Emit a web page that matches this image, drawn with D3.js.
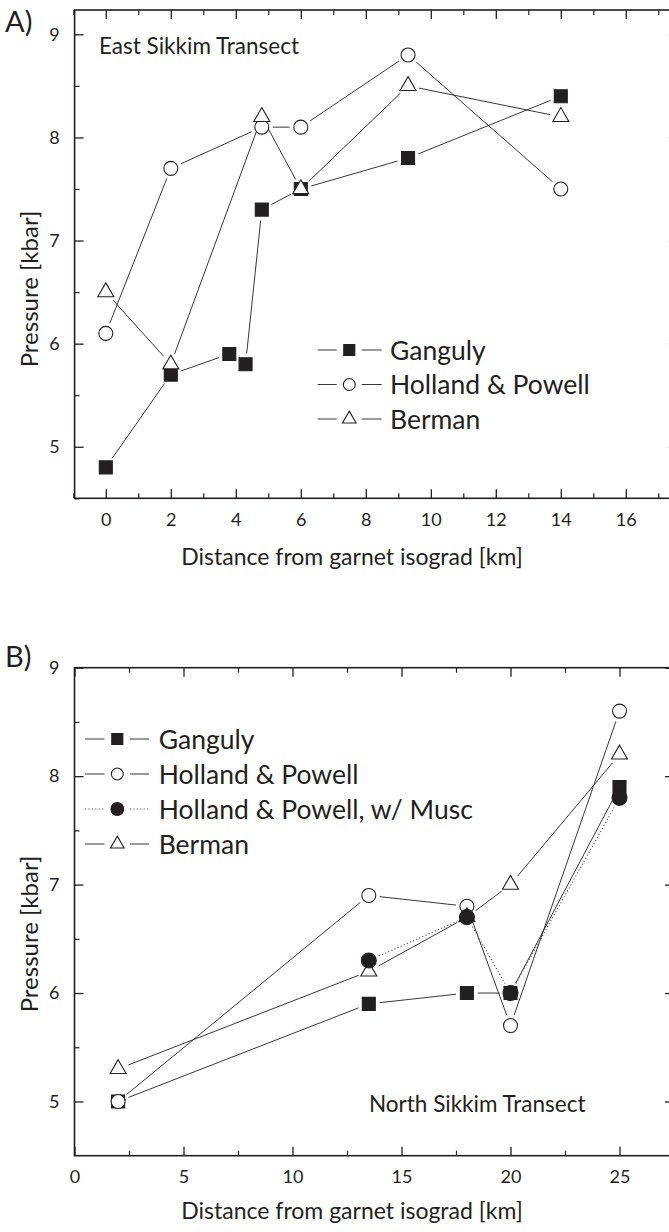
<!DOCTYPE html>
<html>
<head>
<meta charset="utf-8">
<script src="https://cdn.jsdelivr.net/npm/d3@7/dist/d3.min.js"></script>
<style>
  body { margin: 0; background: #fff; }
  svg { display: block; }
  text { font-family: Lato, "Open Sans", sans-serif; fill: #231f20; }
</style>
</head>
<body>
<svg id="fig" width="669" height="1232"></svg>
<script>
// ---- East Sikkim transect (panel A) ----
const eastGangulyDist = [0, 2, 3.8, 4.3, 4.8, 6, 9.3, 14];
const eastGangulyP    = [4.8, 5.7, 5.9, 5.8, 7.3, 7.5, 7.8, 8.4];
const eastHollandDist = [0, 2, 4.8, 6, 9.3, 14];
const eastHollandP    = [6.1, 7.7, 8.1, 8.1, 8.8, 7.5];
const eastBermanDist  = [0, 2, 4.8, 6, 9.3, 14];
const eastBermanP     = [6.5, 5.8, 8.2, 7.5, 8.5, 8.2];

// ---- North Sikkim transect (panel B) ----
const northGangulyDist = [2, 13.5, 18, 20, 25];
const northGangulyP    = [5.0, 5.9, 6.0, 6.0, 7.9];
const northHollandDist = [2, 13.5, 18, 20, 25];
const northHollandP    = [5.0, 6.9, 6.8, 5.7, 8.6];
const northMuscDist    = [13.5, 18, 20, 25];
const northMuscP       = [6.3, 6.7, 6.0, 7.8];
const northBermanDist  = [2, 13.5, 18, 20, 25];
const northBermanP     = [5.3, 6.2, 6.7, 7.0, 8.2];

// ---- ticks and labels ----
const eastXTicks  = [0, 2, 4, 6, 8, 10, 12, 14, 16];
const northXTicks = [0, 5, 10, 15, 20, 25];
const pressureTicks = [5, 6, 7, 8, 9];
const eastLegend  = ["Ganguly", "Holland & Powell", "Berman"];
const northLegend = ["Ganguly", "Holland & Powell", "Holland & Powell, w/ Musc", "Berman"];
const xTitle = "Distance from garnet isograd [km]";
const yTitle = "Pressure [kbar]";

const INK = "#231f20";
const svg = d3.select("#fig");

const zip = (xs, ys) => xs.map((x, i) => ({ x, y: ys[i] }));

const markerStyles = {
  square:   { shape: d3.symbolSquare,   size: 13 * 13, fill: INK },
  circle:   { shape: d3.symbolCircle,   size: Math.PI * 7 * 7, fill: "#fff" },
  dot:      { shape: d3.symbolCircle,   size: Math.PI * 7.5 * 7.5, fill: INK },
  triangle: { shape: d3.symbolTriangle, size: 16 * 16 * Math.sqrt(3) / 4, fill: "#fff" }
};

function drawMarker(g, kind, cx, cy, scale = 1) {
  const m = markerStyles[kind];
  g.append("path")
    .attr("d", d3.symbol().type(m.shape).size(m.size * scale * scale)())
    .attr("transform", `translate(${cx},${cy})`)
    .attr("fill", m.fill)
    .attr("stroke", INK)
    .attr("stroke-width", 1.1);
}

// connecting segments stop short of each marker
function gappedSegments(pts, gap) {
  const segs = [];
  for (let i = 0; i < pts.length - 1; i++) {
    const a = pts[i], b = pts[i + 1];
    const dx = b[0] - a[0], dy = b[1] - a[1];
    const L = Math.hypot(dx, dy);
    if (L <= 2 * gap) continue;
    const ux = dx / L, uy = dy / L;
    segs.push([a[0] + ux * gap, a[1] + uy * gap, b[0] - ux * gap, b[1] - uy * gap]);
  }
  return segs;
}

function drawPanel(cfg) {
  const g = svg.append("g");
  const x = d3.scaleLinear().domain(cfg.xDomain).range(cfg.xRange);
  const y = d3.scaleLinear().domain(cfg.yDomain).range(cfg.yRange);
  const [x0, x1] = cfg.xRange, [y0, y1] = cfg.yRange; // y0 bottom, y1 top

  // axes: ticks point inward on all four sides
  const majorLen = 9, minorLen = 5;
  const axes = [
    { gen: d3.axisBottom(x), t: `translate(0,${y0})`, major: cfg.xTicks, minor: cfg.xMinor, labels: true },
    { gen: d3.axisTop(x),    t: `translate(0,${y1})`, major: cfg.xTicks, minor: cfg.xMinor, labels: false },
    { gen: d3.axisLeft(y),   t: `translate(${x0},0)`, major: cfg.yTicks, minor: cfg.yMinor, labels: true },
    { gen: d3.axisRight(y),  t: `translate(${x1},0)`, major: cfg.yTicks, minor: cfg.yMinor, labels: false }
  ];
  axes.forEach(a => {
    const maj = g.append("g").attr("transform", a.t)
      .call(a.gen.tickValues(a.major).tickSizeInner(-majorLen).tickSizeOuter(0).tickPadding(majorLen + 6)
        .tickFormat(a.labels ? d3.format("d") : () => ""));
    maj.select(".domain").remove();
    maj.selectAll("line").attr("stroke", INK).attr("stroke-width", 1.3);
    maj.selectAll("text").attr("font-size", 18).attr("fill", INK).style("font-family", "Lato, 'Open Sans', sans-serif");
    const mnr = g.append("g").attr("transform", a.t)
      .call(a.gen.tickValues(a.minor).tickSizeInner(-minorLen).tickSizeOuter(0).tickFormat(() => ""));
    mnr.select(".domain").remove();
    mnr.selectAll("line").attr("stroke", INK).attr("stroke-width", 1.2);
  });

  // frame
  g.append("rect")
    .attr("x", x0).attr("y", y1).attr("width", x1 - x0).attr("height", y0 - y1)
    .attr("fill", "none").attr("stroke", INK).attr("stroke-width", 1.6);

  // series lines
  cfg.series.forEach(s => {
    const pts = s.data.map(d => [x(d.x), y(d.y)]);
    gappedSegments(pts, 11).forEach(sg => {
      g.append("line")
        .attr("x1", sg[0]).attr("y1", sg[1]).attr("x2", sg[2]).attr("y2", sg[3])
        .attr("stroke", s.dotted ? "#555" : INK)
        .attr("stroke-width", s.dotted ? 1.1 : 0.9)
        .attr("stroke-dasharray", s.dotted ? "1.2,2.2" : null);
    });
  });
  // series markers
  cfg.series.forEach(s => {
    s.data.forEach(d => drawMarker(g, s.marker, x(d.x), y(d.y)));
  });

  // legend
  cfg.series.slice().sort((a, b) => a.legendRow - b.legendRow).forEach((s, i) => {
    const ly = cfg.legend.y0 + i * cfg.legend.dy;
    const L = cfg.legend;
    [[L.l0, L.l1], [L.r0, L.r1]].forEach(([a, b]) => {
      g.append("line").attr("x1", a).attr("x2", b).attr("y1", ly).attr("y2", ly)
        .attr("stroke", s.dotted ? "#555" : INK)
        .attr("stroke-width", s.dotted ? 1.1 : 0.9)
        .attr("stroke-dasharray", s.dotted ? "1.2,2.2" : null);
    });
    drawMarker(g, s.marker, L.mx, ly, 0.85);
    g.append("text").attr("x", L.tx).attr("y", ly + 9.5)
      .attr("font-size", 26.5).text(s.name);
  });

  // titles and annotations
  g.append("text").attr("x", 352).attr("y", cfg.xTitleY)
    .attr("text-anchor", "middle").attr("font-size", 23).text(xTitle);
  g.append("text")
    .attr("transform", `translate(${cfg.yTitleX},${cfg.yTitleY}) rotate(-90)`)
    .attr("text-anchor", "middle").attr("font-size", 24).text(yTitle);
  g.append("text").attr("x", cfg.noteX).attr("y", cfg.noteY)
    .attr("font-size", 22.5).text(cfg.note);
  g.append("text").attr("x", 5).attr("y", cfg.tagY)
    .attr("font-size", 29).text(cfg.tag);
}

drawPanel({
  tag: "A)", tagY: 32,
  xDomain: [-0.96, 17.6], xRange: [74.6, 677.8],
  yDomain: [4.5, 9.236], yRange: [498.3, 10],
  xTicks: eastXTicks, xMinor: d3.range(-1, 18, 2),
  yTicks: pressureTicks, yMinor: [4.5, 5.5, 6.5, 7.5, 8.5],
  series: [
    { name: eastLegend[0], marker: "square",   data: zip(eastGangulyDist, eastGangulyP), legendRow: 0 },
    { name: eastLegend[1], marker: "circle",   data: zip(eastHollandDist, eastHollandP), legendRow: 1 },
    { name: eastLegend[2], marker: "triangle", data: zip(eastBermanDist,  eastBermanP),  legendRow: 2 }
  ],
  legend: { y0: 350, dy: 34.5, l0: 317.7, l1: 336.7, mx: 349.3, r0: 361.7, r1: 381.7, tx: 390 },
  xTitleY: 565, yTitleX: 38, yTitleY: 289,
  note: "East Sikkim Transect", noteX: 99, noteY: 54
});

drawPanel({
  tag: "B)", tagY: 667,
  xDomain: [0, 27.5], xRange: [74.5, 674],
  yDomain: [4.5, 9], yRange: [1155.7, 667.7],
  xTicks: northXTicks, xMinor: d3.range(2.5, 28, 5),
  yTicks: pressureTicks, yMinor: [5.5, 6.5, 7.5, 8.5],
  series: [
    { name: northLegend[0], marker: "square",   data: zip(northGangulyDist, northGangulyP), legendRow: 0 },
    { name: northLegend[1], marker: "circle",   data: zip(northHollandDist, northHollandP), legendRow: 1 },
    { name: northLegend[3], marker: "triangle", data: zip(northBermanDist,  northBermanP),  legendRow: 3 },
    { name: northLegend[2], marker: "dot",      data: zip(northMuscDist,    northMuscP), dotted: true, legendRow: 2 }
  ],
  legend: { y0: 739, dy: 35, l0: 85, l1: 104.5, mx: 117.3, r0: 130, r1: 149, tx: 158.7 },
  xTitleY: 1219, yTitleX: 38, yTitleY: 934,
  note: "North Sikkim Transect", noteX: 369, noteY: 1112
});
</script>
</body>
</html>
